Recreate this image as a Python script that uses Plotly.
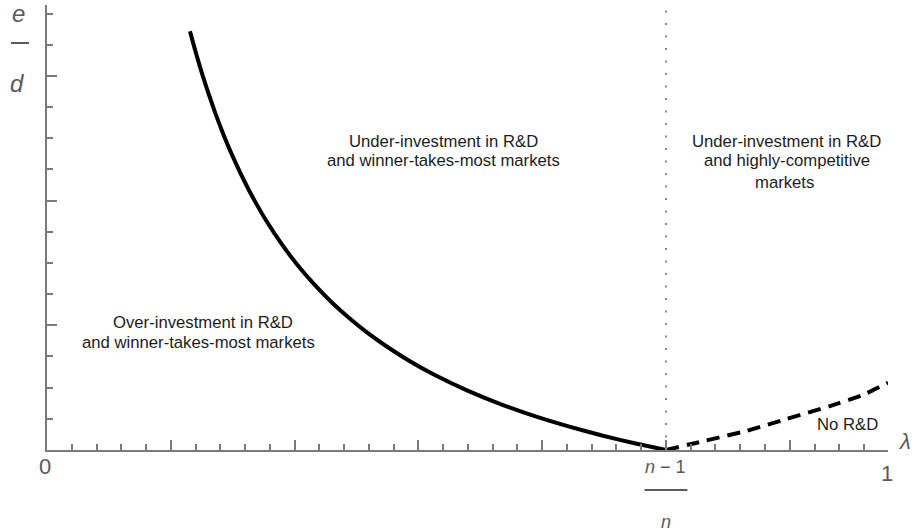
import plotly.graph_objects as go

# Threshold lambda = (n-1)/n separating the two market regimes
threshold = 0.736

# Over-/under-investment boundary: e/d ratio against lambda
lam_boundary = [0.17, 0.175, 0.18, 0.185, 0.19, 0.20, 0.21, 0.22, 0.23, 0.24, 0.25,
                0.26, 0.28, 0.30, 0.32, 0.34, 0.36, 0.38, 0.40, 0.43, 0.46, 0.50,
                0.54, 0.58, 0.62, 0.66, 0.70, 0.736]
ratio_boundary = [3.359, 3.235, 3.117, 3.005, 2.900, 2.704, 2.527, 2.367, 2.220, 2.085,
                  1.962, 1.847, 1.643, 1.466, 1.312, 1.175, 1.054, 0.945, 0.848, 0.718,
                  0.605, 0.476, 0.366, 0.271, 0.189, 0.116, 0.052, 0.0]

# "No R&D" boundary in the highly-competitive regime
lam_nord = [0.736, 0.78, 0.83, 0.88, 0.93, 0.97, 1.0]
ratio_nord = [0.0, 0.07, 0.15, 0.25, 0.35, 0.44, 0.54]

# Region captions: (text, lambda, ratio)
region_text = [
    ("Over-investment in R&D", 0.186, 1.026),
    ("and winner-takes-most markets", 0.180, 0.866),
    ("Under-investment in R&D", 0.472, 2.478),
    ("and winner-takes-most markets", 0.472, 2.318),
    ("Under-investment in R&D", 0.879, 2.478),
    ("and highly-competitive", 0.880, 2.318),
    ("markets", 0.8775, 2.149),
    ("No R&D", 0.952, 0.204),
]

AXIS_GREY = "#7a7a7a"
LABEL_GREY = "#5a5a5a"
TEXT_FONT = "Liberation Sans, Arial, sans-serif"

x_major = threshold / 5
y_max = 3.569

fig = go.Figure()

fig.add_trace(go.Scatter(
    x=lam_boundary, y=ratio_boundary, mode="lines",
    line=dict(color="black", width=4, shape="spline", smoothing=0.5),
    hoverinfo="skip", showlegend=False,
))
fig.add_trace(go.Scatter(
    x=lam_nord, y=ratio_nord, mode="lines",
    line=dict(color="black", width=4, dash="13px,8px", shape="spline", smoothing=0.3),
    hoverinfo="skip", showlegend=False,
))

# Dotted vertical line at (n-1)/n
fig.add_shape(type="line", xref="x", yref="paper", x0=threshold, x1=threshold,
              y0=0, y1=0.99, line=dict(color="#8a8a8a", width=2, dash="2px,10.5px"))

annotations = []
for txt, xv, yv in region_text:
    annotations.append(dict(
        x=xv, y=yv, xref="x", yref="y", text=txt, showarrow=False,
        xanchor="center", yanchor="middle",
        font=dict(family=TEXT_FONT, size=16.7, color="#1c1c1c"),
    ))

# Axis labels
annotations += [
    dict(x=-0.0018, y=-0.038, xref="paper", yref="paper", text="0", showarrow=False,
         xanchor="center", yanchor="middle",
         font=dict(family=TEXT_FONT, size=22, color=LABEL_GREY)),
    dict(x=0.9988, y=-0.052, xref="paper", yref="paper", text="1", showarrow=False,
         xanchor="center", yanchor="middle",
         font=dict(family=TEXT_FONT, size=22, color=LABEL_GREY)),
    dict(x=threshold, y=-0.038, xref="x", yref="paper", text="<i>n</i> − 1", showarrow=False,
         xanchor="center", yanchor="middle",
         font=dict(family=TEXT_FONT, size=18, color=LABEL_GREY)),
    dict(x=threshold, y=-0.162, xref="x", yref="paper", text="<i>n</i>", showarrow=False,
         xanchor="center", yanchor="middle",
         font=dict(family=TEXT_FONT, size=18, color=LABEL_GREY)),
    dict(x=1.0105, y=0.018, xref="paper", yref="paper", text="<i>λ</i>", showarrow=False,
         xanchor="left", yanchor="middle",
         font=dict(family=TEXT_FONT, size=22, color=LABEL_GREY)),
    dict(x=-0.0333, y=0.981, xref="paper", yref="paper", text="<i>e</i>", showarrow=False,
         xanchor="center", yanchor="middle",
         font=dict(family=TEXT_FONT, size=24, color=LABEL_GREY)),
    dict(x=-0.0357, y=0.8247, xref="paper", yref="paper", text="<i>d</i>", showarrow=False,
         xanchor="center", yanchor="middle",
         font=dict(family=TEXT_FONT, size=24, color=LABEL_GREY)),
]

# Fraction bars for (n-1)/n and e/d
fig.add_shape(type="line", xref="x", yref="paper", x0=threshold - 0.0255, x1=threshold + 0.0255,
              y0=-0.0899, y1=-0.0899, line=dict(color=LABEL_GREY, width=2))
fig.add_shape(type="line", xref="paper", yref="paper", x0=-0.0428, x1=-0.0214,
              y0=0.9146, y1=0.9146, line=dict(color=LABEL_GREY, width=2))

fig.update_layout(
    width=912, height=532,
    margin=dict(l=47, r=24, t=5, b=82),
    paper_bgcolor="white", plot_bgcolor="white",
    annotations=annotations,
    xaxis=dict(
        range=[0, 1], showgrid=False, zeroline=False,
        showline=True, linecolor=AXIS_GREY, linewidth=2,
        ticks="inside", ticklen=10, tickwidth=2, tickcolor=AXIS_GREY,
        tickmode="linear", tick0=0, dtick=x_major, showticklabels=False,
        minor=dict(ticks="inside", ticklen=6, tickwidth=2, tickcolor=AXIS_GREY,
                   tickmode="linear", tick0=0, dtick=x_major / 5, showgrid=False),
        fixedrange=True,
    ),
    yaxis=dict(
        range=[0, y_max], showgrid=False, zeroline=False,
        showline=True, linecolor=AXIS_GREY, linewidth=2,
        ticks="inside", ticklen=10, tickwidth=2, tickcolor=AXIS_GREY,
        tickmode="linear", tick0=0, dtick=1, showticklabels=False,
        minor=dict(ticks="inside", ticklen=6, tickwidth=2, tickcolor=AXIS_GREY,
                   tickmode="linear", tick0=0, dtick=0.25, showgrid=False),
        fixedrange=True,
    ),
)

fig.write_html("out.html", config={"displayModeBar": False})
